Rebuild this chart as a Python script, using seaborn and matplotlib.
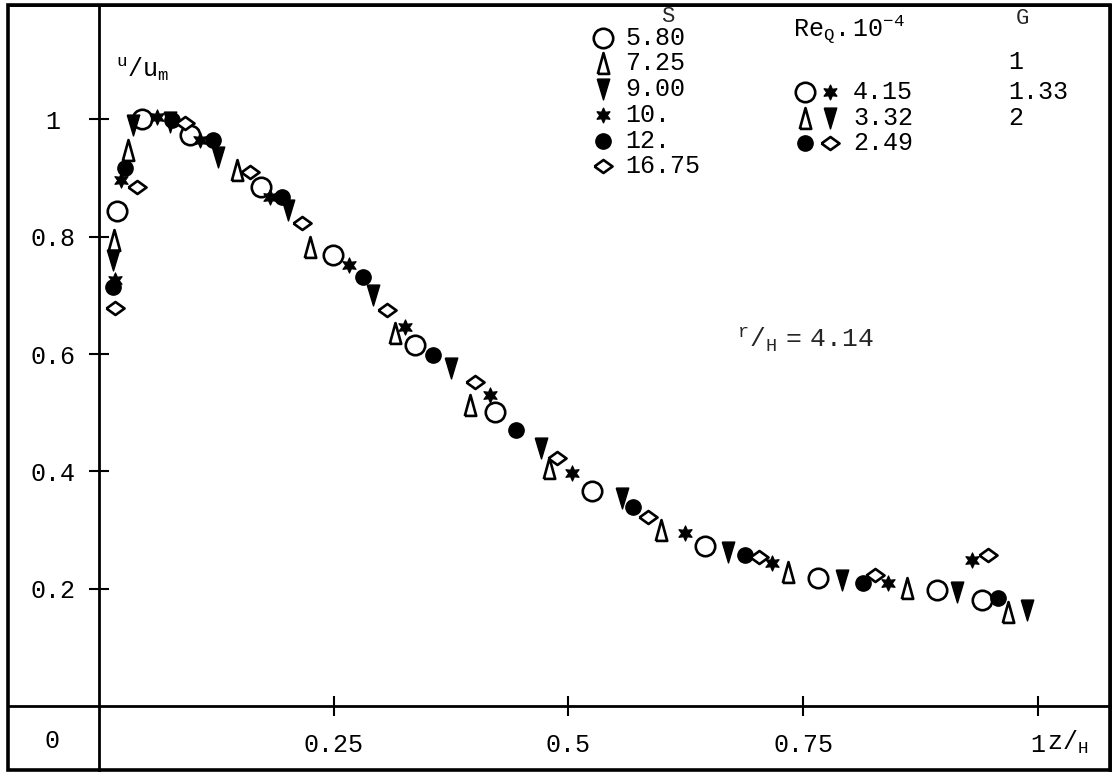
import numpy as np
import pandas as pd
import seaborn as sns
import matplotlib.pyplot as plt
from matplotlib.patches import Rectangle

# u/u_m against z/H at r/H = 4.14, one list pair per swirl number S
x_580 = [0.019, 0.046, 0.097, 0.172, 0.249, 0.337, 0.422, 0.525, 0.646, 0.766, 0.893, 0.941]
y_580 = [0.844, 1.001, 0.974, 0.885, 0.769, 0.616, 0.501, 0.367, 0.273, 0.218, 0.198, 0.181]

x_725 = [0.016, 0.031, 0.147, 0.225, 0.315, 0.395, 0.479, 0.599, 0.734, 0.861, 0.968]
y_725 = [0.795, 0.948, 0.914, 0.783, 0.636, 0.513, 0.406, 0.300, 0.228, 0.201, 0.160]

x_900 = [0.015, 0.036, 0.076, 0.127, 0.201, 0.292, 0.375, 0.471, 0.557, 0.670, 0.792, 0.914, 0.989]
y_900 = [0.760, 0.991, 0.996, 0.936, 0.846, 0.701, 0.576, 0.440, 0.355, 0.263, 0.215, 0.194, 0.164]

x_10 = [0.017, 0.023, 0.062, 0.108, 0.182, 0.266, 0.326, 0.417, 0.504, 0.624, 0.717, 0.841, 0.930]
y_10 = [0.726, 0.897, 1.004, 0.965, 0.868, 0.752, 0.646, 0.530, 0.397, 0.295, 0.244, 0.210, 0.249]

x_12 = [0.015, 0.028, 0.078, 0.121, 0.195, 0.281, 0.356, 0.444, 0.569, 0.688, 0.814, 0.958]
y_12 = [0.714, 0.917, 0.999, 0.965, 0.868, 0.731, 0.598, 0.471, 0.339, 0.257, 0.210, 0.184]

x_1675 = [0.017, 0.040, 0.092, 0.161, 0.216, 0.307, 0.401, 0.488, 0.585, 0.703, 0.827, 0.947]
y_1675 = [0.679, 0.885, 0.994, 0.910, 0.824, 0.675, 0.552, 0.423, 0.322, 0.254, 0.223, 0.257]

s_labels = ["5.80", "7.25", "9.00", "10.", "12.", "16.75"]
re_labels = ["4.15", "3.32", "2.49"]
g_labels = ["1", "1.33", "2"]
y_ticks = [0.2, 0.4, 0.6, 0.8, 1.0]
y_ticklabels = ["0.2", "0.4", "0.6", "0.8", "1"]
x_ticks = [0.25, 0.5, 0.75, 1.0]
x_ticklabels = ["0.25", "0.5", "0.75", "1"]

# marker shapes (narrow triangles and flat diamond like the hand-drawn ones)
tri_up = [(-0.55, -1), (0.55, -1), (0, 1), (-0.55, -1)]
tri_dn = [(-0.6, 1), (0.6, 1), (0, -1), (-0.6, 1)]
diamond = [(-1, 0), (0, 0.72), (1, 0), (0, -0.72), (-1, 0)]
star6 = (6, 1, 0)

styles = {
    "5.80": dict(marker="o", s=14 ** 2, fc="white", lw=1.9),
    "7.25": dict(marker=tri_up, s=15 ** 2, fc="white", lw=1.9),
    "9.00": dict(marker=tri_dn, s=15 ** 2, fc="black", lw=1.0),
    "10.": dict(marker=star6, s=11 ** 2, fc="black", lw=0.8),
    "12.": dict(marker="o", s=11 ** 2, fc="black", lw=1.0),
    "16.75": dict(marker=diamond, s=13 ** 2, fc="white", lw=1.9),
}

frames = []
for lab, xs, ys in zip(s_labels, [x_580, x_725, x_900, x_10, x_12, x_1675],
                       [y_580, y_725, y_900, y_10, y_12, y_1675]):
    frames.append(pd.DataFrame({"z": xs, "u": ys, "S": lab}))
df = pd.concat(frames, ignore_index=True)

sns.set_theme(style="white")
plt.rcParams["font.family"] = ["Liberation Mono", "DejaVu Sans"]
plt.rcParams["mathtext.fontset"] = "custom"
plt.rcParams["mathtext.rm"] = "Liberation Mono"
plt.rcParams["mathtext.it"] = "Liberation Mono"

W, H = 1115, 778
fig = plt.figure(figsize=(W / 100, H / 100), dpi=100)
ax = fig.add_axes([8 / W, 8 / H, 1102 / W, 765 / H])

for lab in s_labels:
    st = styles[lab]
    sns.scatterplot(data=df[df["S"] == lab], x="z", y="u", ax=ax,
                    marker=st["marker"], s=st["s"], color=st["fc"],
                    edgecolor="black", linewidth=st["lw"], zorder=3,
                    legend=False, clip_on=False)

ax.set_xlim(-0.097, 1.077)
ax.set_ylim(-0.109, 1.195)
ax.set_xlabel("")
ax.set_ylabel("")

# axis lines through the origin, outer frame drawn separately
ax.spines["left"].set_position(("data", 0))
ax.spines["bottom"].set_position(("data", 0))
for sp in ax.spines.values():
    sp.set_linewidth(2.0)
    sp.set_color("black")
ax.add_patch(Rectangle((0, 0), 1, 1, transform=ax.transAxes, fill=False,
                       lw=2.6, ec="black", clip_on=False, zorder=5))

ax.set_xticks(x_ticks)
ax.set_xticklabels(x_ticklabels)
ax.set_yticks(y_ticks)
ax.set_yticklabels(y_ticklabels)
ax.tick_params(axis="both", direction="inout", length=15, width=1.5,
               colors="black", labelsize=18, bottom=True, left=True,
               top=False, right=False)
ax.tick_params(axis="x", pad=12)
ax.tick_params(axis="y", pad=26)
for t in ax.get_yticklabels():
    t.set_ha("center")

txt = dict(fontsize=18, color="black")
ax.text(-0.05, -0.06, "0", ha="center", va="center", **txt)
ax.text(1.010, -0.062, r"$\mathregular{z/_H}$", ha="left", va="center", **txt)
ax.text(0.018, 1.085, r"$\mathregular{^u/u_m}$", ha="left", va="center", **txt)
ax.text(0.68, 0.625, r"$\mathregular{^r/_H\ =\ 4.14}$", ha="left", va="center", fontsize=19)

# hand-made legend block, positions in figure pixels
def fpx(x, y):
    return x / W, 1 - y / H

leg_rows = [38, 63, 89, 115, 141, 166]
fig.text(*fpx(668, 16), "S", ha="center", va="center", fontsize=16)
for lab, yy in zip(s_labels, leg_rows):
    st = styles[lab]
    fig.add_artist(plt.Line2D([fpx(603, yy)[0]], [fpx(603, yy)[1]],
                              marker=st["marker"], ms=np.sqrt(st["s"]),
                              mfc=st["fc"], mec="black", mew=st["lw"],
                              ls="none", transform=fig.transFigure))
    fig.text(*fpx(625, yy), lab, ha="left", va="center", **txt)

fig.text(*fpx(793, 30), r"$\mathregular{Re_Q.10^{-4}}$", ha="left", va="center", **txt)
re_rows = [92, 118, 143]
re_marks = [("5.80", "10."), ("7.25", "9.00"), ("12.", "16.75")]
for lab, yy, pair in zip(re_labels, re_rows, re_marks):
    for xm, key in zip([805, 830], pair):
        st = styles[key]
        fig.add_artist(plt.Line2D([fpx(xm, yy)[0]], [fpx(xm, yy)[1]],
                                  marker=st["marker"], ms=np.sqrt(st["s"]),
                                  mfc=st["fc"], mec="black", mew=st["lw"],
                                  ls="none", transform=fig.transFigure))
    fig.text(*fpx(853, yy), lab, ha="left", va="center", **txt)

fig.text(*fpx(1022, 18), "G", ha="center", va="center", fontsize=16)
for lab, yy in zip(g_labels, [62, 92, 118]):
    fig.text(*fpx(1008, yy), lab, ha="left", va="center", **txt)

fig.savefig("out.png", dpi=100, facecolor="white")
